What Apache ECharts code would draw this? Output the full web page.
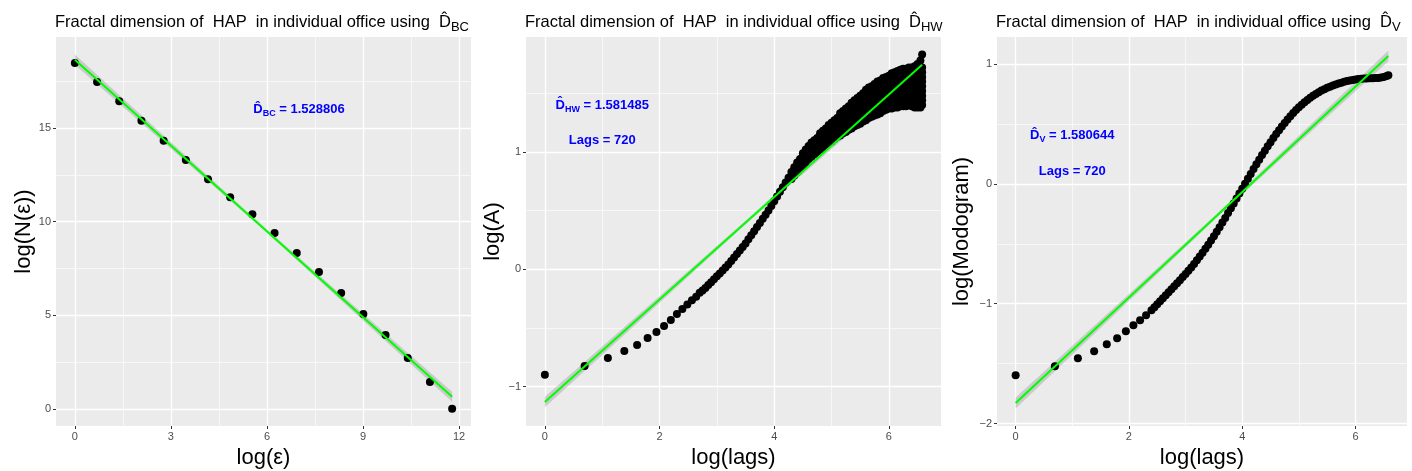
<!DOCTYPE html>
<html><head><meta charset="utf-8">
<script src="https://cdn.jsdelivr.net/npm/echarts@6/dist/echarts.min.js"></script>
<style>html,body{margin:0;padding:0;background:#fff}#c{width:1412px;height:471px}</style>
</head><body><div id="c"></div>
<script>
// ---------- Panel 1: box counting ----------
const p1X = [0,0.693,1.386,2.079,2.773,3.466,4.159,4.852,5.545,6.238,6.931,7.625,8.318,9.011,9.704,10.397,11.09,11.784];
const p1Y = [18.48,17.46,16.44,15.40,14.33,13.29,12.27,11.31,10.40,9.39,8.32,7.31,6.19,5.06,3.94,2.71,1.43,0.0];
const p1Fit = [18.66, -1.5288];      // intercept, slope
const p1FitRange = [0, 11.784];
const p1Band = [[0, 0.27], [5.9, 0.09], [11.784, 0.27]];
const p1XTicks = [0,3,6,9,12], p1XMinor = [1.5,4.5,7.5,10.5];
const p1YTicks = [0,5,10,15], p1YMinor = [2.5,7.5,12.5,17.5];

// ---------- Panel 2: Hall-Wood ----------
const p2LagX = [0,0.693,1.099,1.386,1.609,1.792,1.946,2.079,2.197,2.303,2.398,2.485,2.565,2.639];
const p2LagY = [-0.90,-0.824,-0.756,-0.696,-0.645,-0.585,-0.534,-0.483,-0.432,-0.381,-0.338,-0.30,-0.265,-0.235];
const p2CurveX = [2.70,2.75,2.80,2.85,2.90,2.95,3.00,3.05,3.10,3.15,3.20,3.25,3.30,3.35,3.40,3.45,3.50,3.55,3.60,3.65,3.70,3.75,3.80,3.85,3.90,3.95,4.00,4.05,4.10,4.15,4.20,4.25];
const p2CurveY = [-0.20,-0.18,-0.16,-0.135,-0.11,-0.085,-0.06,-0.035,-0.01,0.015,0.04,0.07,0.10,0.13,0.16,0.19,0.22,0.255,0.29,0.325,0.36,0.395,0.43,0.465,0.50,0.54,0.58,0.62,0.66,0.70,0.74,0.78];
const p2CloudX = [4.30,4.35,4.40,4.45,4.50,4.55,4.60,4.65,4.70,4.75,4.80,4.85,4.90,4.95,5.00,5.05,5.10,5.15,5.20,5.25,5.30,5.35,5.40,5.45,5.50,5.55,5.60,5.65,5.70,5.75,5.80,5.85,5.90,5.95,6.00,6.05,6.10,6.15,6.20,6.25,6.30,6.35,6.40,6.45,6.50,6.55,6.58];
const p2CloudY = [
 [0.77,0.80,0.83],[0.80,0.84,0.87],[0.83,0.87,0.91],[0.86,0.90,0.94],
 [0.88,0.92,0.96,0.99],[0.91,0.95,0.99,1.02],[0.94,0.98,1.02,1.05],[0.96,1.00,1.04,1.08],
 [0.98,1.02,1.06,1.10],[1.00,1.04,1.08,1.12],[1.02,1.06,1.10,1.14,1.16],[1.04,1.08,1.12,1.16,1.18],
 [1.06,1.10,1.14,1.18,1.20],[1.08,1.12,1.16,1.20,1.23],[1.09,1.13,1.17,1.21,1.25],[1.11,1.15,1.19,1.23,1.27],
 [1.13,1.17,1.21,1.25,1.29],[1.14,1.18,1.22,1.26,1.30,1.33],[1.16,1.20,1.24,1.28,1.32,1.35],[1.17,1.21,1.25,1.29,1.33,1.37],
 [1.19,1.23,1.27,1.31,1.35,1.39],[1.20,1.24,1.28,1.32,1.36,1.40,1.42],[1.22,1.26,1.30,1.34,1.38,1.42,1.44],[1.23,1.27,1.31,1.35,1.39,1.43,1.46],
 [1.24,1.28,1.32,1.36,1.40,1.44,1.48],[1.26,1.30,1.34,1.38,1.42,1.46,1.50],[1.27,1.31,1.35,1.39,1.43,1.47,1.51,1.53],[1.29,1.33,1.37,1.41,1.45,1.49,1.53,1.55],
 [1.30,1.34,1.38,1.42,1.46,1.50,1.54,1.56],[1.31,1.35,1.39,1.43,1.47,1.51,1.55,1.58],[1.32,1.36,1.40,1.44,1.48,1.52,1.56,1.60],[1.33,1.37,1.41,1.45,1.49,1.53,1.57,1.61],
 [1.35,1.39,1.43,1.47,1.51,1.55,1.59,1.63],[1.36,1.40,1.44,1.48,1.52,1.56,1.60,1.64],[1.37,1.41,1.45,1.49,1.53,1.57,1.61,1.65],[1.37,1.41,1.45,1.49,1.53,1.57,1.61,1.65,1.67],
 [1.38,1.42,1.46,1.50,1.54,1.58,1.62,1.66,1.68],[1.38,1.42,1.46,1.50,1.54,1.58,1.62,1.66,1.69],[1.39,1.43,1.47,1.51,1.55,1.59,1.63,1.67,1.70],[1.39,1.43,1.47,1.51,1.55,1.59,1.63,1.67,1.71],
 [1.39,1.43,1.47,1.51,1.55,1.59,1.63,1.67,1.71],[1.40,1.44,1.48,1.52,1.56,1.60,1.64,1.68,1.72],[1.39,1.43,1.47,1.51,1.55,1.59,1.63,1.67,1.72],[1.38,1.42,1.46,1.50,1.54,1.58,1.62,1.66,1.70,1.73],
 [1.38,1.42,1.46,1.50,1.54,1.58,1.62,1.66,1.70,1.75],[1.38,1.42,1.46,1.50,1.54,1.58,1.62,1.66,1.70,1.78],[1.40,1.44,1.48,1.52,1.56,1.60,1.64,1.68,1.72,1.83]
];
const p2Fit = [-1.131, 0.437];
const p2FitRange = [0, 6.58];
const p2Band = [[0, 0.045], [3.6, 0.015], [6.58, 0.045]];
const p2XTicks = [0,2,4,6], p2XMinor = [1,3,5];
const p2YTicks = [-1,0,1], p2YMinor = [-0.5,0.5,1.5];

// ---------- Panel 3: madogram ----------
const p3X = [0,0.693,1.099,1.386,1.609,1.792,1.946,2.079,2.197,2.303,2.398,
 2.45,2.50,2.55,2.60,2.65,2.70,2.75,2.80,2.85,2.90,2.95,3.00,3.05,3.10,3.15,3.20,3.25,3.30,3.35,3.40,3.45,3.50,3.55,3.60,3.65,3.70,3.75,3.80,3.85,3.90,3.95,4.00,
 4.05,4.10,4.15,4.20,4.25,4.30,4.35,4.40,4.45,4.50,4.55,4.60,4.65,4.70,4.75,4.80,4.85,4.90,4.95,5.00,5.05,5.10,5.15,5.20,5.25,5.30,5.35,5.40,5.45,5.50,
 5.55,5.60,5.65,5.70,5.75,5.80,5.85,5.90,5.95,6.00,6.05,6.10,6.15,6.20,6.25,6.30,6.35,6.40,6.45,6.50,6.55,6.58];
const p3Y = [-1.597,-1.522,-1.455,-1.397,-1.338,-1.288,-1.230,-1.180,-1.138,-1.096,-1.054,
 -1.030,-1.005,-0.980,-0.955,-0.930,-0.905,-0.880,-0.855,-0.830,-0.805,-0.778,-0.752,-0.725,-0.697,-0.668,-0.638,-0.607,-0.575,-0.542,-0.508,-0.473,-0.437,-0.400,-0.362,-0.323,-0.284,-0.244,-0.204,-0.163,-0.122,-0.081,-0.040,
 0.001,0.042,0.083,0.123,0.163,0.202,0.240,0.277,0.313,0.348,0.382,0.415,0.447,0.478,0.508,0.537,0.564,0.590,0.615,0.638,0.660,0.681,0.700,0.718,0.735,0.750,0.765,0.778,0.790,0.801,
 0.811,0.820,0.829,0.837,0.844,0.851,0.857,0.862,0.867,0.871,0.874,0.876,0.878,0.879,0.880,0.881,0.882,0.884,0.887,0.892,0.900,0.905];
const p3Fit = [-1.828, 0.44];
const p3FitRange = [0, 6.58];
const p3Band = [[0, 0.045], [3.6, 0.015], [6.58, 0.045]];
const p3XTicks = [0,2,4,6], p3XMinor = [1,3,5];
const p3YTicks = [-2,-1,0,1], p3YMinor = [-1.5,-0.5,0.5];

// ---------- Texts ----------
const titleMain = 'Fractal dimension of  HAP  in individual office using  ';
const titleSubs = ['BC','HW','V'];
const xNames = ['log(\u03b5)','log(lags)','log(lags)'];
const yNames = ['log(N(\u03b5))','log(A)','log(Modogram)'];
const estValues = ['1.528806','1.581485','1.580644'];
const lagsText = 'Lags = 720';

// ---------- Layout ----------
const F = 'Liberation Sans, Arial, Helvetica, sans-serif';
const grids = [
  {left:56, right:941, top:37, bottom:45},
  {left:526, right:471, top:37, bottom:45},
  {left:997, right:5, top:37, bottom:45}
];
const xRanges = [[-0.589,12.373],[-0.329,6.909],[-0.329,6.909]];
const yRanges = [[-0.92,19.87],[-1.336,1.98],[-2.02,1.225]];
const estPos = [[7,16],[1,1.4],[1,0.4]];
const lagsPos = [null,[1,1.1],[1,0.1]];

const fmt = v => String(v).replace('-', '\u2212');

function xAxis(i, ticks){
  return {type:'value', gridIndex:i, min:xRanges[i][0], max:xRanges[i][1],
    name:xNames[i], nameLocation:'middle', nameGap:18,
    nameTextStyle:{fontSize:22, color:'#000', fontFamily:F, verticalAlign:'top'},
    axisLine:{show:false, onZero:false},
    axisTick:{show:true, length:3, lineStyle:{color:'#333', width:1}, customValues:ticks},
    axisLabel:{customValues:ticks, margin:5, fontSize:11, color:'#4D4D4D', fontFamily:F, formatter:fmt},
    splitLine:{show:false}};
}
function yAxis(i, ticks){
  return {type:'value', gridIndex:i, min:yRanges[i][0], max:yRanges[i][1],
    name:yNames[i], nameLocation:'middle', nameGap:[21,22,24][i], nameRotate:90,
    nameTextStyle:{fontSize:22, color:'#000', fontFamily:F},
    axisLine:{show:false, onZero:false},
    axisTick:{show:true, length:3, lineStyle:{color:'#333', width:1}, customValues:ticks},
    axisLabel:{customValues:ticks, margin:5, fontSize:11, color:'#4D4D4D', fontFamily:F, formatter:fmt},
    splitLine:{show:false}};
}
function gridLineSeries(i, xMaj, xMin, yMaj, yMin){
  const d = [];
  xMin.forEach(v=>d.push({xAxis:v, lineStyle:{width:0.6}}));
  yMin.forEach(v=>d.push({yAxis:v, lineStyle:{width:0.6}}));
  xMaj.forEach(v=>d.push({xAxis:v, lineStyle:{width:1.3}}));
  yMaj.forEach(v=>d.push({yAxis:v, lineStyle:{width:1.3}}));
  return {type:'line', xAxisIndex:i, yAxisIndex:i, data:[], z:1, silent:true, symbol:'none',
    markLine:{z:1, silent:true, symbol:['none','none'], label:{show:false}, animation:false,
      lineStyle:{color:'#ffffff', type:'solid'}, emphasis:{disabled:true}, data:d}};
}
function bandSeries(i, fit, band){
  return {type:'custom', xAxisIndex:i, yAxisIndex:i, z:2, silent:true, data:[[0,0]],
    renderItem:(p, api)=>{
      const up = band.map(b=>api.coord([b[0], fit[0]+fit[1]*b[0]+b[1]]));
      const lo = band.map(b=>api.coord([b[0], fit[0]+fit[1]*b[0]-b[1]])).reverse();
      return {type:'polygon', shape:{points:up.concat(lo)}, style:{fill:'rgba(153,153,153,0.4)'}};
    }};
}
function fitSeries(i, fit, range){
  return {type:'line', xAxisIndex:i, yAxisIndex:i, z:4, silent:true, symbol:'none',
    lineStyle:{color:'#00FF00', width:2}, animation:false,
    data: range.map(x=>[x, fit[0]+fit[1]*x])};
}
function pointSeries(i, data){
  return {type:'scatter', xAxisIndex:i, yAxisIndex:i, z:3, silent:true, symbolSize:8,
    itemStyle:{color:'#000', opacity:1}, animation:false, large:false, data:data};
}
const annRich = {
  d:{fontSize:13, fontWeight:'bold', color:'#0000FF', fontFamily:F, lineHeight:14},
  s:{fontSize:9, fontWeight:'bold', color:'#0000FF', fontFamily:F, lineHeight:8, padding:[8,0,0,0]},
  t:{fontSize:13, fontWeight:'bold', color:'#0000FF', fontFamily:F, lineHeight:14}
};
function annSeries(i){
  const data = [{value:estPos[i], label:{formatter:'{d|D\u0302}{s|'+titleSubs[i]+'}{t| = '+estValues[i]+'}'}}];
  if (lagsPos[i]) data.push({value:lagsPos[i], label:{formatter:'{t|'+lagsText+'}'}});
  return {type:'scatter', xAxisIndex:i, yAxisIndex:i, z:5, silent:true, symbolSize:0, animation:false,
    itemStyle:{opacity:1},
    label:{show:true, position:'inside', opacity:1, color:'#0000FF', rich:annRich}, data:data};
}
const zip = (a,b)=>a.map((v,k)=>[v,b[k]]);
const cloud = (xs, ys)=>xs.flatMap((x,k)=>ys[k].map(y=>[x,y]));

const titleRich = {
  a:{fontSize:16.5, color:'#000', fontFamily:F, fontWeight:'normal', lineHeight:20},
  d:{fontSize:16.5, color:'#000', fontFamily:F, fontWeight:'normal', lineHeight:20},
  s:{fontSize:13, color:'#000', fontFamily:F, fontWeight:'normal', lineHeight:11, padding:[10,0,0,0]}
};
const titles = grids.map((g,i)=>({left:g.left-1, top:12, padding:0,
  text:'{a|'+titleMain+'}{d|D\u0302}{s|'+titleSubs[i]+'}',
  textStyle:{fontWeight:'normal', rich:titleRich}}));

const option = {
  backgroundColor:'#ffffff',
  animation:false,
  title: titles,
  grid: grids.map(g=>Object.assign({show:true, backgroundColor:'#EBEBEB', borderWidth:0, containLabel:false, outerBoundsMode:'none'}, g)),
  xAxis:[xAxis(0,p1XTicks), xAxis(1,p2XTicks), xAxis(2,p3XTicks)],
  yAxis:[yAxis(0,p1YTicks), yAxis(1,p2YTicks), yAxis(2,p3YTicks)],
  series:[
    gridLineSeries(0,p1XTicks,p1XMinor,p1YTicks,p1YMinor),
    gridLineSeries(1,p2XTicks,p2XMinor,p2YTicks,p2YMinor),
    gridLineSeries(2,p3XTicks,p3XMinor,p3YTicks,p3YMinor),
    bandSeries(0,p1Fit,p1Band), bandSeries(1,p2Fit,p2Band), bandSeries(2,p3Fit,p3Band),
    pointSeries(0, zip(p1X,p1Y)),
    pointSeries(1, zip(p2LagX,p2LagY).concat(zip(p2CurveX,p2CurveY)).concat(cloud(p2CloudX,p2CloudY))),
    pointSeries(2, zip(p3X,p3Y)),
    fitSeries(0,p1Fit,p1FitRange), fitSeries(1,p2Fit,p2FitRange), fitSeries(2,p3Fit,p3FitRange),
    annSeries(0), annSeries(1), annSeries(2)
  ]
};
const chart = echarts.init(document.getElementById('c'), null, {renderer:'canvas'});
chart.setOption(option);
</script></body></html>
